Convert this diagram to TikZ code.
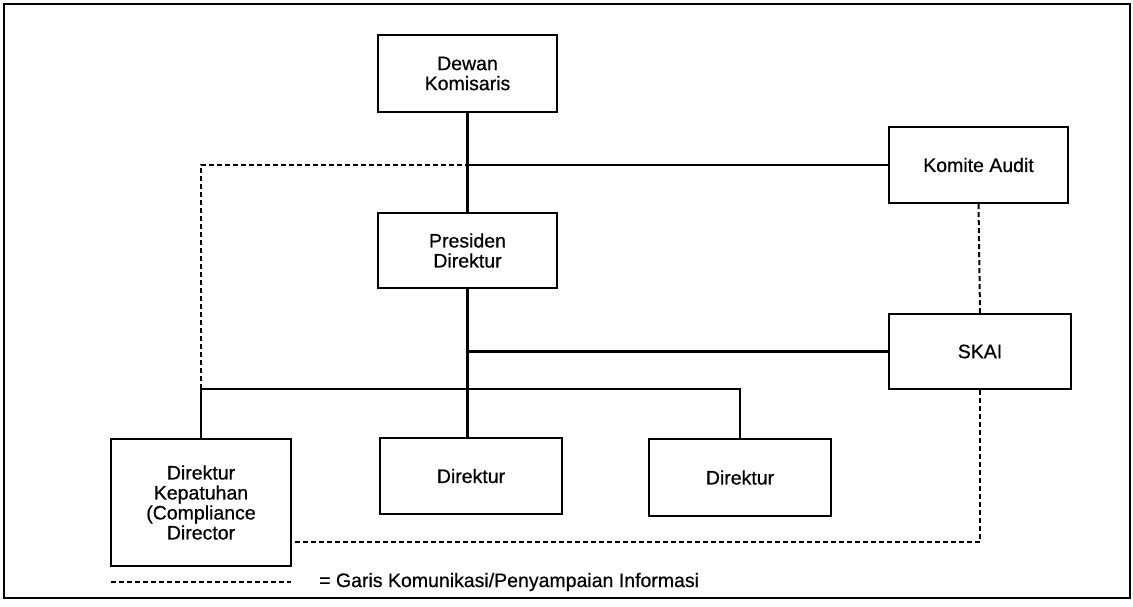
\documentclass[tikz,border=0pt]{standalone}
\usepackage{fontspec}
\setmainfont{Liberation Sans}
\newfontfamily\boxfont[FakeBold=0.6]{Liberation Sans}
\begin{document}
\begin{tikzpicture}[x=1pt,y=-1pt,
  box/.style={draw, line width=2.2pt, rectangle, align=center, inner sep=0pt,
    font=\boxfont\fontsize{19.5}{20}\selectfont},
  solidline/.style={line width=2.2pt},
  commline/.style={line width=2pt, dash pattern=on 5pt off 3pt}]
\useasboundingbox (0,0) rectangle (1133,607);
\draw[line width=1.6pt] (4,4) rectangle (1130,598);

\node[box, minimum width=179pt, minimum height=77pt] (dewan) at (467.5,73.5) {Dewan\\Komisaris};
\node[box, minimum width=179pt, minimum height=75pt] (pres) at (467.5,250.5) {Presiden\\Direktur};
\node[box, minimum width=179pt, minimum height=76pt] (komite) at (978.5,165) {Komite Audit};
\node[box, minimum width=182pt, minimum height=75pt] (skai) at (980,351.5) {SKAI};
\node[box, minimum width=180pt, minimum height=127pt] (kep) at (201,502.5) {Direktur\\Kepatuhan\\(Compliance\\Director};
\node[box, minimum width=182pt, minimum height=76pt] (mdir) at (471,476) {Direktur};
\node[box, minimum width=182pt, minimum height=77pt] (rdir) at (740,477.5) {Direktur};

\coordinate (j1) at (467.5,165);
\coordinate (j2) at (467.5,389);
\coordinate (j3) at (467.5,351.5);

% solid hierarchy lines
\draw[solidline] (dewan.south) -- (pres.north);
\draw[solidline] (j1) -- (komite.west);
\draw[solidline] (pres.south) -- (pres.south |- mdir.north);
\draw[solidline] (j3) -- (skai.west);
\draw[solidline] (kep.north |- j2) -- (rdir.north |- j2) -- (rdir.north);
\draw[solidline] (kep.north |- j2) -- (kep.north);

% communication lines
\draw[commline] (kep.north |- j2) -- (kep.north |- j1) -- (j1);
\draw[commline] (komite.south) -- (skai.north);
\draw[commline] (skai.south) -- (skai.south |- 0,542) -- (kep.east |- 0,542);

% legend
\coordinate (la) at (111,582);
\coordinate (lb) at (291,582);
\draw[commline] (la) -- (lb);
\node[anchor=west, inner sep=0pt, font=\boxfont\fontsize{19.5}{20}\selectfont] (legend) at (319,582) {= Garis Komunikasi/Penyampaian Informasi};
\end{tikzpicture}
\end{document}
